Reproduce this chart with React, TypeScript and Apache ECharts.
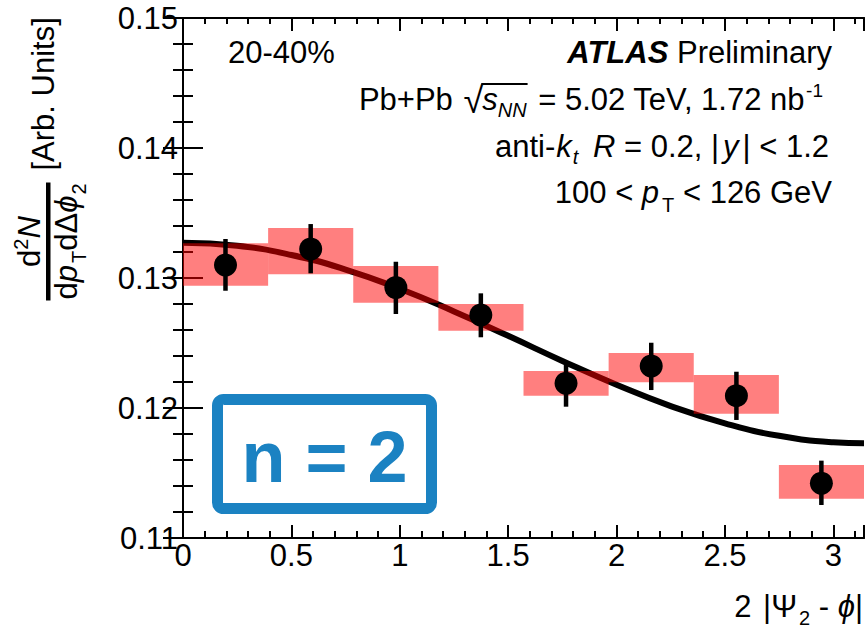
import React, { useEffect, useRef } from "react";
import * as echarts from "echarts";

// ---- data ----
const binLow = [0, 0.3927, 0.7854, 1.1781, 1.5708, 1.9635, 2.3562, 2.7489];
const binHigh = [0.3927, 0.7854, 1.1781, 1.5708, 1.9635, 2.3562, 2.7489, 3.1416];
const binCenter = [0.196, 0.589, 0.982, 1.374, 1.767, 2.16, 2.553, 2.945];
const yValue = [0.131, 0.13223, 0.12927, 0.12715, 0.1219, 0.12323, 0.12095, 0.11421];
const statLow = [0.12902, 0.13036, 0.12723, 0.12544, 0.1201, 0.12138, 0.11908, 0.11254];
const statHigh = [0.133, 0.13415, 0.13125, 0.12882, 0.12331, 0.12502, 0.12279, 0.11595];
const sysLow = [0.12941, 0.13028, 0.1281, 0.12595, 0.12095, 0.12198, 0.11956, 0.11302];
const sysHigh = [0.13267, 0.13385, 0.13092, 0.128, 0.12285, 0.12423, 0.12254, 0.11562];
const fitX = [0, 0.25, 0.5, 0.75, 1.0, 1.25, 1.5, 1.75, 2.0, 2.25, 2.5, 2.75, 3.0, 3.1416];
const fitY = [0.13272, 0.13248, 0.13177, 0.13065, 0.12917, 0.12743, 0.12555, 0.12362, 0.12179, 0.12015, 0.11882, 0.11786, 0.11736, 0.11728];
const xMajorTicks = [0, 0.5, 1, 1.5, 2, 2.5, 3];
const yMajorTicks = [0.11, 0.12, 0.13, 0.14, 0.15];

const FONT = "'Liberation Sans', Arial, Helvetica, sans-serif";
const BASE_OFF = 0.35;
const BLUE = "#1b82c2";
const FS = 31;

let mctx: CanvasRenderingContext2D | null = null;
function measure(t: string, size: number, italic: boolean, bold: boolean) {
  if (!mctx) mctx = document.createElement("canvas").getContext("2d");
  if (!mctx) return t.length * size * 0.55;
  mctx.font = `${italic ? "italic " : ""}${bold ? "bold " : ""}${size}px ${FONT}`;
  return mctx.measureText(t).width;
}

type Seg = { t: string; s?: number; i?: boolean; b?: boolean; dy?: number; dx?: number };

function textEl(t: string, x: number, baseline: number, size: number, italic: boolean, bold: boolean, color: string) {
  return {
    type: "text",
    x,
    y: baseline - BASE_OFF * size,
    silent: true,
    style: {
      text: t,
      fontSize: size,
      fontFamily: FONT,
      fontStyle: italic ? "italic" : "normal",
      fontWeight: bold ? "bold" : "normal",
      fill: color,
      align: "left",
      verticalAlign: "middle",
    },
  };
}

function layoutRun(segs: Seg[], x: number, baseline: number, align: string, color = "#000", base = FS) {
  const ws = segs.map((sg) => (sg.dx ?? 0) + measure(sg.t, sg.s ?? base, !!sg.i, !!sg.b));
  const total = ws.reduce((a, b) => a + b, 0);
  let cx = align === "left" ? x : align === "right" ? x - total : x - total / 2;
  const els: any[] = [];
  const xs: number[] = [];
  segs.forEach((sg, k) => {
    const size = sg.s ?? base;
    const sx = cx + (sg.dx ?? 0);
    xs.push(sx);
    els.push(textEl(sg.t, sx, baseline + (sg.dy ?? 0), size, !!sg.i, !!sg.b, color));
    cx += ws[k];
  });
  return { els, xs, ws, total };
}

function buildGraphics() {
  const g: any[] = [];
  // centrality
  g.push(...layoutRun([{ t: "20-40%" }], 228, 63, "left").els);
  // ATLAS Preliminary
  g.push(...layoutRun([{ t: "ATLAS", b: true, i: true }, { t: " Preliminary" }], 832, 63, "right").els);
  // Pb+Pb line
  const l2 = layoutRun(
    [
      { t: "Pb+Pb " },
      { t: "√", s: 36, dy: 3, dx: 2 },
      { t: "s", i: true, dx: -1 },
      { t: "NN", i: true, s: 20, dy: 7 },
      { t: " = 5.02 TeV, 1.72 nb", dx: 3 },
      { t: "-1", s: 19, dy: -13, dx: 1 },
    ],
    823,
    110,
    "right"
  );
  g.push(...l2.els);
  g.push({
    type: "line",
    silent: true,
    shape: { x1: l2.xs[1] + l2.ws[1] - 4, y1: 110 - 26, x2: l2.xs[3] + l2.ws[3] + 1, y2: 110 - 26 },
    style: { stroke: "#000", lineWidth: 2 },
  });
  // anti-kt line
  g.push(
    ...layoutRun(
      [
        { t: "anti-" },
        { t: "k", i: true, dx: 1 },
        { t: "t", i: true, s: 20, dy: 7, dx: 1 },
        { t: " ", dx: 6 },
        { t: "R", i: true },
        { t: " = 0.2, |" },
        { t: "y", i: true, dx: 4 },
        { t: "| < 1.2", dx: 4 },
      ],
      829,
      157,
      "right"
    ).els
  );
  // pT line
  g.push(
    ...layoutRun(
      [{ t: "100 < " }, { t: "p", i: true }, { t: "T", s: 20, dy: 9, dx: 3 }, { t: " < 126 GeV" }],
      832,
      203,
      "right"
    ).els
  );
  // x-axis title
  g.push(
    ...layoutRun(
      [{ t: "2 " }, { t: "|Ψ", dx: 3 }, { t: "2", s: 20, dy: 8, dx: 2 }, { t: " - " }, { t: "ϕ", i: true }, { t: "|" }],
      863,
      617,
      "right"
    ).els
  );
  // y-axis title (rotated group)
  const kids: any[] = [];
  kids.push({ type: "rect", silent: true, shape: { x: -59, y: -2, width: 118, height: 4.5 }, style: { fill: "#000" } });
  kids.push(...layoutRun([{ t: "d" }, { t: "2", s: 20, dy: -12 }, { t: "N", i: true }], 0, -8, "center").els);
  kids.push(
    ...layoutRun(
      [
        { t: "d" },
        { t: "p", i: true },
        { t: "T", s: 20, dy: 9, dx: 2 },
        { t: "dΔ" },
        { t: "ϕ", i: true },
        { t: "2", s: 20, dy: 9, dx: 1 },
      ],
      0,
      29,
      "center"
    ).els
  );
  kids.push(...layoutRun([{ t: "[Arb. Units]" }], 71, 6, "left").els);
  g.push({ type: "group", x: 48, y: 241.5, rotation: Math.PI / 2, children: kids });

  // n = 2 box
  g.push({
    type: "rect",
    silent: true,
    shape: { x: 217.5, y: 399.5, width: 214, height: 109, r: 6 },
    style: { fill: "rgba(0,0,0,0)", stroke: BLUE, lineWidth: 11 },
  });
  g.push(...layoutRun([{ t: "n = 2", b: true, s: 72 }], 324.5, 482, "center", BLUE).els);
  return g;
}

const tickFmtX = (v: number) => (xMajorTicks.some((t) => Math.abs(t - v) < 1e-6) ? String(Math.round(v * 10) / 10) : "");
const tickFmtY = (v: number) => (yMajorTicks.some((t) => Math.abs(t - v) < 1e-7) ? v.toFixed(2) : "");

export default function App() {
  const ref = useRef<HTMLDivElement>(null);
  useEffect(() => {
    document.body.style.margin = "0";
    if (!ref.current) return;
    const chart = echarts.init(ref.current, undefined, { renderer: "svg" });
    const axLine = { show: true, lineStyle: { color: "#000", width: 2 } };
    const xCommon = { type: "value", min: 0, max: Math.PI, splitLine: { show: false }, axisLine: axLine };
    const yCommon = {
      type: "value",
      min: 0.11,
      max: 0.15,
      interval: 0.01,
      splitLine: { show: false },
      minorSplitLine: { show: false },
      axisLine: axLine,
      axisTick: { show: true, inside: true, length: 20, lineStyle: { color: "#000", width: 2 } },
      minorTick: { show: true, splitNumber: 5, length: 10, lineStyle: { color: "#000", width: 2 } },
    };
    const option: any = {
      animation: false,
      grid: { left: 183, top: 18, right: -1, bottom: 92, containLabel: false },
      xAxis: [
        {
          ...xCommon,
          position: "bottom",
          interval: 0.5,
          axisTick: { show: true, inside: true, length: 13, lineStyle: { color: "#000", width: 2 } },
          axisLabel: { show: true, formatter: tickFmtX, fontSize: FS, fontFamily: FONT, color: "#000", margin: 2 },
        },
        {
          ...xCommon,
          position: "bottom",
          interval: 0.1,
          axisTick: { show: true, inside: true, length: 7, lineStyle: { color: "#000", width: 2 } },
          axisLabel: { show: false },
        },
        {
          ...xCommon,
          position: "top",
          interval: 0.5,
          axisTick: { show: true, inside: true, length: 13, lineStyle: { color: "#000", width: 2 } },
          axisLabel: { show: false },
        },
        {
          ...xCommon,
          position: "top",
          interval: 0.1,
          axisTick: { show: true, inside: true, length: 6, lineStyle: { color: "#000", width: 2 } },
          axisLabel: { show: false },
        },
      ],
      yAxis: [
        {
          ...yCommon,
          position: "left",
          axisLabel: { show: true, formatter: tickFmtY, fontSize: FS, fontFamily: FONT, color: "#000", margin: 5 },
        },
        { ...yCommon, position: "right", axisLabel: { show: false } },
      ],
      series: [
        {
          type: "line",
          name: "fit",
          xAxisIndex: 0,
          yAxisIndex: 0,
          data: fitX.map((x, i) => [x, fitY[i]]),
          smooth: true,
          showSymbol: false,
          symbol: "none",
          lineStyle: { color: "#000", width: 6 },
          z: 2,
        },
        {
          type: "custom",
          name: "syst",
          xAxisIndex: 0,
          yAxisIndex: 0,
          data: binLow.map((x, i) => [x, binHigh[i], sysLow[i], sysHigh[i]]),
          encode: { x: [0, 1], y: [2, 3] },
          renderItem: (_p: any, api: any) => {
            const a = api.coord([api.value(0), api.value(3)]);
            const b = api.coord([api.value(1), api.value(2)]);
            return {
              type: "rect",
              shape: { x: a[0], y: a[1], width: b[0] - a[0], height: b[1] - a[1] },
              style: { fill: "rgba(255,0,0,0.5)" },
            };
          },
          z: 3,
        },
        {
          type: "custom",
          name: "stat",
          xAxisIndex: 0,
          yAxisIndex: 0,
          data: binCenter.map((x, i) => [x, statLow[i], statHigh[i]]),
          encode: { x: 0, y: [1, 2] },
          renderItem: (_p: any, api: any) => {
            const a = api.coord([api.value(0), api.value(1)]);
            const b = api.coord([api.value(0), api.value(2)]);
            return {
              type: "line",
              shape: { x1: a[0], y1: a[1], x2: b[0], y2: b[1] },
              style: { stroke: "#000", lineWidth: 4.5 },
            };
          },
          z: 4,
        },
        {
          type: "scatter",
          name: "data",
          xAxisIndex: 0,
          yAxisIndex: 0,
          data: binCenter.map((x, i) => [x, yValue[i]]),
          symbol: "circle",
          symbolSize: 23,
          itemStyle: { color: "#000", opacity: 1 },
          z: 5,
        },
      ],
      graphic: buildGraphics(),
    };
    chart.setOption(option);
    return () => chart.dispose();
  }, []);
  return <div ref={ref} style={{ width: 867, height: 630 }} />;
}
